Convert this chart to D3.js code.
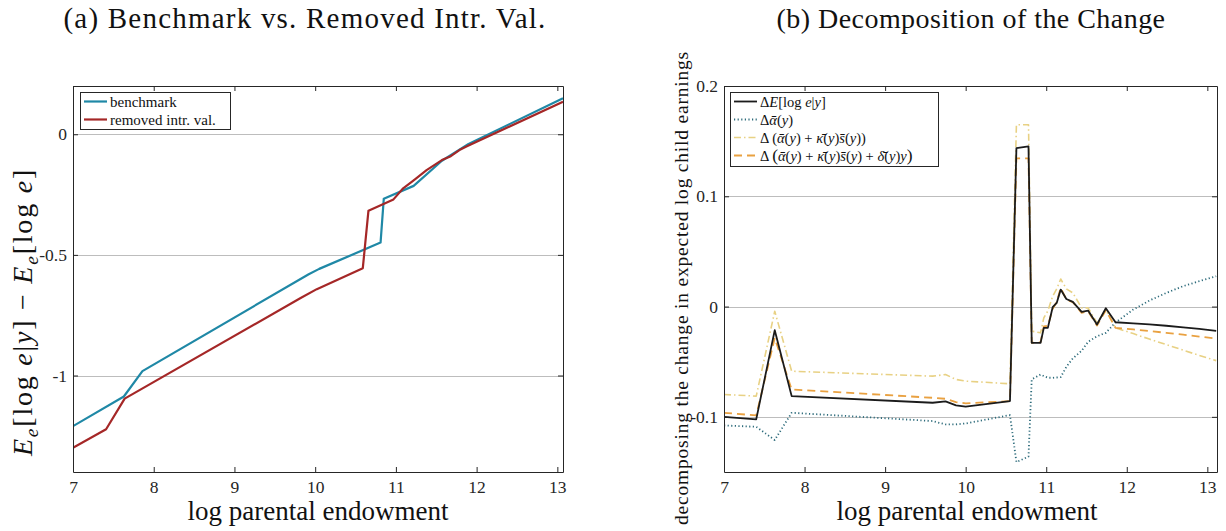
<!DOCTYPE html>
<html><head><meta charset="utf-8">
<script src="https://cdn.jsdelivr.net/npm/d3@7"></script>
<style>
body{margin:0;background:#fff;}
svg{display:block;font-family:"Liberation Serif","Times New Roman",serif;}
</style></head>
<body><svg id="chart" width="1226" height="531"></svg>
<script>
// ---------- data ----------
const xTicks = [7, 8, 9, 10, 11, 12, 13];
const yTicksA = [0, -0.5, -1];
const yTickLabelsA = ["0", "-0.5", "-1"];
const yTicksB = [0.2, 0.1, 0, -0.1];
const yTickLabelsB = ["0.2", "0.1", "0", "-0.1"];

// panel (a)
const benchX = [7.0, 7.63, 7.86, 9.92, 10.05, 10.81, 10.85, 11.22, 11.57, 11.9, 13.07];
const benchY = [-1.21, -1.087, -0.982, -0.580, -0.558, -0.449, -0.267, -0.214, -0.110, -0.040, 0.149];
const removedX = [7.0, 7.41, 7.64, 9.82, 10.02, 10.59, 10.66, 10.97, 11.09, 11.24, 11.38, 11.57, 11.68, 11.8, 11.88, 13.07];
const removedY = [-1.30, -1.223, -1.096, -0.679, -0.642, -0.555, -0.317, -0.270, -0.224, -0.186, -0.149, -0.107, -0.091, -0.063, -0.050, 0.135];

// panel (b)
const decompX = [7.0, 7.40, 7.63, 7.84, 9.59, 9.75, 9.88, 10.0, 10.55, 10.63, 10.78, 10.82, 10.93, 10.97, 11.02, 11.08, 11.13, 11.18, 11.25, 11.33, 11.44, 11.52, 11.63, 11.74, 11.86, 12.08, 12.28, 12.49, 12.7, 12.9, 13.11];
const dE = [-0.100, -0.1023, -0.0214, -0.0812, -0.0872, -0.0860, -0.0896, -0.0908, -0.0857, 0.1437, 0.1452, -0.0329, -0.0329, -0.0193, -0.0193, -0.0006, 0.0033, 0.0154, 0.0069, 0.0042, -0.0048, -0.0036, -0.0163, -0.0015, -0.0142, -0.0152, -0.0162, -0.0174, -0.0188, -0.0203, -0.0220];
const dAlpha = [-0.1078, -0.109, -0.121, -0.0963, -0.1038, -0.1069, -0.1068, -0.106, -0.0984, -0.141, -0.136, -0.066, -0.0616, -0.063, -0.0645, -0.0646, -0.0643, -0.064, -0.0546, -0.047, -0.040, -0.032, -0.0269, -0.0238, -0.0145, -0.0027, 0.0054, 0.0124, 0.0185, 0.023, 0.0275];
const dAlphaKS = [-0.0797, -0.0812, -0.0042, -0.0586, -0.0631, -0.0616, -0.0661, -0.0676, -0.0700, 0.1648, 0.1648, -0.0223, -0.0238, -0.0103, -0.004, 0.0094, 0.016, 0.025, 0.016, 0.0124, -0.0012, -0.0012, -0.0148, -0.0027, -0.0193, -0.0245, -0.0295, -0.0345, -0.0395, -0.0443, -0.049];
const dAlphaKSD = [-0.0963, -0.0987, -0.0284, -0.0752, -0.0827, -0.0836, -0.0866, -0.0878, -0.0857, 0.1343, 0.1343, -0.0329, -0.0323, -0.018, -0.0175, -0.002, 0.004, 0.017, 0.0063, 0.004, -0.0057, -0.0042, -0.0172, -0.0033, -0.0193, -0.0207, -0.0222, -0.0238, -0.0255, -0.0272, -0.029];

// ---------- helpers ----------
const svg = d3.select("#chart");
const FONT = '"Liberation Serif","Times New Roman",serif';

function richText(sel, segs, size) {
  segs.forEach(s => {
    const ts = sel.append("tspan").text(s.t);
    if (s.i) ts.attr("font-style", "italic");
    if (s.sub) ts.attr("font-size", size * 0.7).attr("dy", size * 0.22);
    if (s.after) ts.attr("dy", -size * 0.22);
    if (s.big) ts.attr("font-size", size * 1.2);
  });
}
// spread letters so the text spans the target width (Computer Modern is wider than Times)
function fitWidth(sel, target) {
  const node = sel.node();
  const len = node.getComputedTextLength();
  const n = node.textContent.length;
  if (n > 1 && len < target) sel.attr("letter-spacing", (target - len) / n);
}

function makePanel(cfg) {
  const {left, right, top, bottom, xDomain, yDomain, yTicks, yLabels} = cfg;
  const x = d3.scaleLinear().domain(xDomain).range([left, right]);
  const y = d3.scaleLinear().domain(yDomain).range([bottom, top]);
  const g = svg.append("g");
  const id = "clip" + cfg.id;
  svg.append("clipPath").attr("id", id).append("rect")
    .attr("x", left).attr("y", top).attr("width", right - left).attr("height", bottom - top);
  g.append("g").selectAll("line").data(yTicks.filter(v => v > yDomain[0] && v < yDomain[1]))
    .join("line")
    .attr("x1", left).attr("x2", right)
    .attr("y1", d => Math.round(y(d)) + 0.5).attr("y2", d => Math.round(y(d)) + 0.5)
    .attr("stroke", "#bdbdbd").attr("stroke-width", 1);
  const plot = g.append("g").attr("clip-path", `url(#${id})`);
  const ax = g.append("g");
  ax.append("g").attr("transform", `translate(0,${bottom})`)
    .call(d3.axisBottom(x).tickValues(xTicks).tickFormat(d3.format("d")).tickSizeInner(-5).tickSizeOuter(0).tickPadding(9));
  ax.append("g").attr("transform", `translate(0,${top})`)
    .call(d3.axisTop(x).tickValues(xTicks).tickFormat("").tickSizeInner(-5).tickSizeOuter(0));
  ax.append("g").attr("transform", `translate(${left},0)`)
    .call(d3.axisLeft(y).tickValues(yTicks).tickFormat((d, i) => yLabels[i]).tickSizeInner(-5).tickSizeOuter(0).tickPadding(6));
  ax.append("g").attr("transform", `translate(${right},0)`)
    .call(d3.axisRight(y).tickValues(yTicks).tickFormat("").tickSizeInner(-5).tickSizeOuter(0));
  ax.selectAll(".domain").attr("stroke", "#262626").attr("stroke-width", 1);
  ax.selectAll(".tick line").attr("stroke", "#262626");
  ax.selectAll(".tick text").attr("font-family", FONT).attr("font-size", 17.5).attr("fill", "#262626");
  return {x, y, plot, g};
}

function drawLine(p, xs, ys, style) {
  const line = d3.line().x(d => p.x(d[0])).y(d => p.y(d[1]));
  const path = p.plot.append("path").datum(xs.map((v, i) => [v, ys[i]]))
    .attr("d", line).attr("fill", "none")
    .attr("stroke", style.color).attr("stroke-width", style.width)
    .attr("stroke-linejoin", "round");
  if (style.dash) path.attr("stroke-dasharray", style.dash);
  return path;
}

// ---------- panel (a) ----------
const pA = makePanel({id: "A", left: 73, right: 563, top: 86, bottom: 472,
  xDomain: [7, 13.07], yDomain: [-1.4, 0.2], yTicks: yTicksA, yLabels: yTickLabelsA});
const stA = [
  {color: "#1f88a6", width: 2.2},
  {color: "#a52727", width: 2.2}
];
drawLine(pA, benchX, benchY, stA[0]);
drawLine(pA, removedX, removedY, stA[1]);

// ---------- panel (b) ----------
const pB = makePanel({id: "B", left: 724, right: 1217, top: 86, bottom: 472,
  xDomain: [7, 13.12], yDomain: [-0.15, 0.2], yTicks: yTicksB, yLabels: yTickLabelsB});
const stB = [
  {color: "#1b1b1b", width: 1.8},
  {color: "#2d6b7b", width: 1.8, dash: "1.2,2.4"},
  {color: "#e8d184", width: 1.6, dash: "7,3,1.5,3"},
  {color: "#e9a141", width: 1.8, dash: "8,5"}
];
drawLine(pB, decompX, dAlpha, stB[1]);
drawLine(pB, decompX, dAlphaKS, stB[2]);
drawLine(pB, decompX, dAlphaKSD, stB[3]);
drawLine(pB, decompX, dE, stB[0]);

// ---------- titles ----------
fitWidth(svg.append("text").attr("x", 305).attr("y", 28).attr("text-anchor", "middle")
  .attr("font-size", 29).attr("fill", "#111").text("(a) Benchmark vs. Removed Intr. Val."), 483);
fitWidth(svg.append("text").attr("x", 971).attr("y", 28).attr("text-anchor", "middle")
  .attr("font-size", 28).attr("fill", "#111").text("(b) Decomposition of the Change"), 389);

[[318, 256], [967, 257]].forEach(([cx, w]) => {
  fitWidth(svg.append("text").attr("x", cx).attr("y", 520).attr("text-anchor", "middle")
    .attr("font-size", 27).attr("fill", "#111").text("log parental endowment"), w);
});

// y label (a)
const yla = svg.append("text").attr("transform", "translate(32,312) rotate(-90)")
  .attr("text-anchor", "middle").attr("font-size", 28).attr("fill", "#111");
richText(yla, [
  {t: "E", i: true}, {t: "e", i: true, sub: true}, {t: "[log ", after: true}, {t: "e", i: true},
  {t: "|"}, {t: "y", i: true}, {t: "] \u2212 "}, {t: "E", i: true}, {t: "e", i: true, sub: true},
  {t: "[log ", after: true}, {t: "e", i: true}, {t: "]"}
], 28);
fitWidth(yla, 288);

// y label (b)
fitWidth(svg.append("text").attr("transform", "translate(688,288) rotate(-90)")
  .attr("text-anchor", "middle").attr("font-size", 19.5).attr("fill", "#111")
  .text("decomposing the change in expected log child earnings"), 474);

// ---------- legends ----------
function legend(x0, y0, w, h, rows, styles, fs) {
  const g = svg.append("g");
  g.append("rect").attr("x", x0 + 0.5).attr("y", y0 + 0.5).attr("width", w).attr("height", h)
    .attr("fill", "#fff").attr("stroke", "#262626").attr("stroke-width", 1);
  rows.forEach((segs, i) => {
    const cy = y0 + 9.5 + i * 18;
    g.append("line").attr("x1", x0 + 4).attr("x2", x0 + 27).attr("y1", cy).attr("y2", cy)
      .attr("stroke", styles[i].color).attr("stroke-width", styles[i].width)
      .attr("stroke-dasharray", styles[i].dash || null);
    const t = g.append("text").attr("x", x0 + 30).attr("y", cy + 5).attr("font-size", fs).attr("fill", "#111");
    richText(t, segs, fs);
  });
}
legend(80, 92, 150, 37, [[{t: "benchmark"}], [{t: "removed intr. val."}]], stA, 15);

const A = "\u03B1\u0304", K = "\u03BA\u0304", S = "s\u0304", D = "\u03B4\u0304";
legend(730, 92, 208, 74, [
  [{t: "\u0394"}, {t: "E", i: true}, {t: "[log "}, {t: "e", i: true}, {t: "|"}, {t: "y", i: true}, {t: "]"}],
  [{t: "\u0394"}, {t: A, i: true}, {t: "("}, {t: "y", i: true}, {t: ")"}],
  [{t: "\u0394 ("}, {t: A, i: true}, {t: "("}, {t: "y", i: true}, {t: ") + "}, {t: K, i: true}, {t: "("}, {t: "y", i: true}, {t: ")"}, {t: S, i: true}, {t: "("}, {t: "y", i: true}, {t: "))"}],
  [{t: "\u0394 "}, {t: "(", big: true}, {t: A, i: true}, {t: "("}, {t: "y", i: true}, {t: ") + "}, {t: K, i: true}, {t: "("}, {t: "y", i: true}, {t: ")"}, {t: S, i: true}, {t: "("}, {t: "y", i: true}, {t: ") + "}, {t: D, i: true}, {t: "("}, {t: "y", i: true}, {t: ")"}, {t: "y", i: true}, {t: ")", big: true}]
], stB, 14.5);
</script>
</body></html>
